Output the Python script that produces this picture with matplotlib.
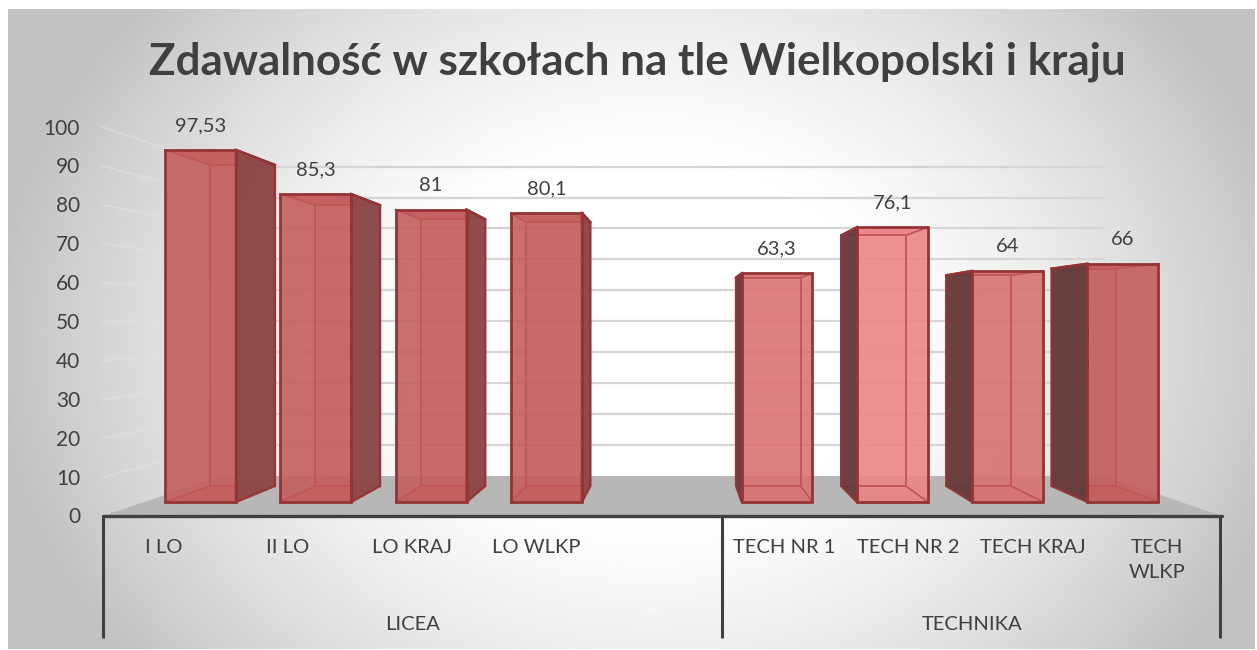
import numpy as np
import matplotlib
matplotlib.use("Agg")
import matplotlib.pyplot as plt
from matplotlib.patches import Polygon

categories = ["I LO", "II LO", "LO KRAJ", "LO WLKP", "", "TECH NR 1", "TECH NR 2", "TECH KRAJ", "TECH\nWLKP"]
values = [97.53, 85.3, 81, 80.1, None, 63.3, 76.1, 64, 66]
value_labels = ["97,53", "85,3", "81", "80,1", "", "63,3", "76,1", "64", "66"]
groups = ["LICEA", "TECHNIKA"]
y_ticks = [0, 10, 20, 30, 40, 50, 60, 70, 80, 90, 100]
title = "Zdawalność w szkołach na tle Wielkopolski i kraju"

W, H = 1257, 650
plt.rcParams["font.family"] = ["Lato", "DejaVu Sans"]
TXT = "#404040"

fig = plt.figure(figsize=(W / 100, H / 100), dpi=100)
fig.patch.set_facecolor("white")
ax = fig.add_axes([0, 0, 1, 1])

# data scale chosen so that the plot plane keeps the reference proportions
X0, XS, Y0, YS = 200.5, 115.3, 502.0, 3.61
ax.axis("off")

# perspective: vanishing point and plane scales
VX, VY = (679 - X0) / XS, (Y0 - 320) / YS
S_BACK, S_WALL, S_AXIS = 0.912, 0.857, 1.077
BAR_W = 0.615


def proj(x, v, s):
    return VX + s * (x - VX), VY + s * (v - VY)


# background
px0, px1, py0, py1 = 8, 1254, 10, 649
xx, yy = np.meshgrid(np.linspace(px0, px1, 500), np.linspace(py0, py1, 260))
r = np.sqrt(((xx - 650) / 620) ** 2 + ((yy - 340) / 500) ** 2)
bg = 255 - 54 * np.clip((r - 0.33) / 0.67, 0, 1.1) ** 1.4
ax.imshow(bg, cmap="gray", vmin=0, vmax=255, interpolation="bilinear", aspect="auto", zorder=0,
          extent=((px0 - X0) / XS, (px1 - X0) / XS, (Y0 - py1) / YS, (Y0 - py0) / YS))
ax.set_xlim((0 - X0) / XS, (W - X0) / XS)
ax.set_ylim((Y0 - H) / YS, Y0 / YS)

XL, XR = (103 - 679) / (XS * S_AXIS) + VX, (1222 - 679) / (XS * S_AXIS) + VX
XR_WALL = (1105 - 679) / (XS * S_WALL) + VX

# floor
ax.add_patch(Polygon([proj(XL, 0, S_AXIS), proj(XR, 0, S_AXIS), proj(XR_WALL, 0, S_WALL), proj(XL, 0, S_WALL)],
                     closed=True, fc="#b7b7b7", ec="none", zorder=1))

# gridlines on the back wall and on the left wall
for t in y_ticks[1:]:
    a = proj(XL, t, S_AXIS)
    b = proj(XL, t, S_WALL)
    c = proj(XR_WALL, t, S_WALL)
    ax.plot([b[0], c[0]], [b[1], c[1]], color="#d5d5d5", lw=1.6, zorder=2, solid_capstyle="butt")
    ax.plot([a[0], b[0]], [a[1], b[1]], color="#e2e2e2", lw=1.4, alpha=0.55, zorder=2)

EDGE = "#943434"
INNER = "#c05656"


def shade(i):
    # bars in the bright part of the chart are lighter, as in the reference
    px = X0 + XS * i
    f = np.clip(abs(px - 885) / 240, 0, 1)
    return tuple(np.array([236, 134, 134]) * (1 - f) / 255 + np.array([196, 92, 92]) * f / 255)


for i, v in enumerate(values):
    if v is None:
        continue
    l, rgt = i - BAR_W / 2, i + BAR_W / 2
    col = shade(i)
    # back face, floor face, top face
    bl, br, bt, tr = proj(l, 0, S_BACK), proj(rgt, 0, S_BACK), proj(l, v, S_BACK), proj(rgt, v, S_BACK)
    ax.add_patch(Polygon([(l, 0), (rgt, 0), br, bl], closed=True, fc=col, alpha=0.85, ec="none", zorder=3))
    ax.add_patch(Polygon([bl, br, tr, bt], closed=True, fc=col, alpha=0.75, ec="none", zorder=3))
    ax.add_patch(Polygon([(l, v), (rgt, v), tr, bt], closed=True, fc=col, alpha=0.9, ec="none", zorder=4))
    # inner wall and the dark outer wall
    if i < VX:
        outer, inner, dark = (rgt, br, tr), (l, bl, bt), "#8a4848"
    else:
        outer, inner, dark = (l, bl, bt), (rgt, br, tr), "#613a3a"
    ax.add_patch(Polygon([(inner[0], 0), inner[1], inner[2], (inner[0], v)], closed=True, fc=col, alpha=0.7,
                         ec="none", zorder=4))
    ax.bar(i, v, width=BAR_W, color=col, alpha=0.62, zorder=5, linewidth=0)
    # edges seen through the glassy bar, mostly hidden by the dark wall
    for p, q in [(bl, br), (bl, bt), (br, tr), (bt, tr), ((inner[0], 0), inner[1]), ((inner[0], v), inner[2])]:
        ax.plot([p[0], q[0]], [p[1], q[1]], color=INNER, lw=1.3, zorder=5.5)
    ax.add_patch(Polygon([(outer[0], 0), outer[1], outer[2], (outer[0], v)], closed=True, fc=dark, ec=EDGE, lw=1.7,
                         alpha=0.93, zorder=6, joinstyle="miter"))
    ax.bar(i, v, width=BAR_W, fill=False, edgecolor=EDGE, linewidth=2.0, zorder=8)
    ax.plot([outer[0], outer[2][0]], [v, outer[2][1]], color=EDGE, lw=1.7, zorder=8)
    ax.annotate(value_labels[i], (i, v), xytext=(0, 17.5), textcoords="offset points", ha="center", va="center",
                fontsize=14.5, color=TXT, zorder=10)

# y tick labels in the front plane
for t in y_ticks:
    p = proj(XL, t, S_AXIS)
    ax.annotate(str(t), (p[0], p[1]), xytext=(-16.5, -1), textcoords="offset points", ha="right", va="center",
                fontsize=15, color=TXT, zorder=10)

# multi-level category axis
base = proj(XL, 0, S_AXIS)
end = proj(XR, 0, S_AXIS)
low_v = base[1] - 122 / YS
split_x = proj(4.5, 0, S_AXIS)[0]
ax.plot([base[0], end[0]], [base[1], base[1]], color=TXT, lw=2.4, zorder=9, solid_capstyle="round")
for xv in [base[0], split_x, end[0] - 2 / XS]:
    ax.plot([xv, xv], [base[1], low_v], color=TXT, lw=2.2, zorder=9, solid_capstyle="butt")

for i, c in enumerate(categories):
    if c:
        p = proj(i, 0, S_AXIS)
        ax.text(p[0], base[1] - 22.5 / YS, c, ha="center", va="top", fontsize=14.5, color=TXT, linespacing=1.6, zorder=10)

for g, xa, xb in zip(groups, [base[0], split_x], [split_x, end[0]]):
    ax.text((xa + xb) / 2, base[1] - 108 / YS, g, ha="center", va="center", fontsize=14.5, color=TXT, zorder=10)

ax.text((637 - X0) / XS, (Y0 - 62) / YS, title, ha="center", va="center", fontsize=31.7,
        fontweight="bold", color=TXT, zorder=10)

fig.savefig("out.png", dpi=100, facecolor="white")
